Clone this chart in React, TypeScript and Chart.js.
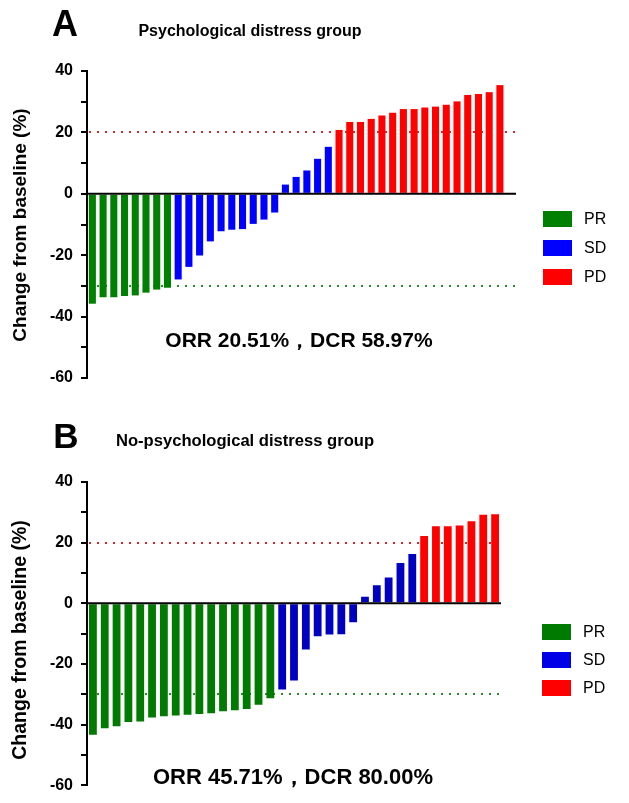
import React, { useEffect, useRef } from "react";
import { Chart, registerables } from "chart.js";

Chart.register(...registerables);

// ---------- Data ----------
const A_PR = [-35.8, -33.7, -33.7, -33.3, -33.1, -32.2, -31.2, -30.6];
const A_SD = [-27.9, -23.8, -20.1, -15.5, -12.2, -11.7, -11.5, -9.8, -8.4, -6.1, 3.0, 5.5, 7.6, 11.4, 15.3];
const A_PD = [20.8, 23.4, 23.4, 24.4, 25.5, 26.4, 27.6, 27.6, 28.1, 28.4, 29.0, 30.1, 32.2, 32.5, 33.1, 35.4];

const B_PR = [-43.3, -41.2, -40.5, -39.1, -38.9, -37.6, -37.2, -37.0, -36.7, -36.5, -36.2, -35.6, -35.2, -34.8, -33.4, -31.3];
const B_SD = [-28.4, -25.4, -15.2, -10.8, -10.3, -10.2, -6.2, 2.2, 6.0, 8.5, 13.3, 16.3];
const B_PD = [22.2, 25.4, 25.4, 25.7, 27.1, 29.2, 29.4];

const LEGEND_LABELS = ["PR", "SD", "PD"];
const Y_MIN = -60;
const Y_MAX = 40;
const Y_STEP = 10;
const PD_LINE = 20;
const PR_LINE = -30;

const TITLE_A = "Psychological distress group";
const TITLE_B = "No-psychological distress group";
const NOTE_A = "ORR 20.51%，DCR 58.97%";
const NOTE_B = "ORR 45.71%，DCR 80.00%";
const Y_TITLE = "Change from baseline (%)";

const FONT = '"Liberation Sans", Arial, Helvetica, sans-serif';

type PanelCfg = {
  letter: string;
  letterPos: [number, number];
  letterSize: number;
  title: string;
  titlePos: [number, number];
  titleSize: number;
  note: string;
  notePos: [number, number];
  noteSize: number;
  yTitlePos: [number, number];
  yTitleSize: number;
  legendX: number;
  legendY: number[];
  legendLabelX: number;
};

const panelPlugin = {
  id: "panel",
  beforeDatasetsDraw(chart: any, _a: any, opts: any) {
    const { ctx, chartArea, scales } = chart;
    const y = scales.y;
    const lines = [
      { v: PD_LINE, c: "#d92b2b" },
      { v: PR_LINE, c: "#2a8a2a" },
    ];
    ctx.save();
    ctx.lineWidth = 2;
    ctx.setLineDash([2, 6]);
    for (const l of lines) {
      const py = Math.round(y.getPixelForValue(l.v));
      ctx.strokeStyle = l.c;
      ctx.beginPath();
      ctx.moveTo(chartArea.left + 2, py);
      ctx.lineTo(chartArea.right, py);
      ctx.stroke();
    }
    ctx.restore();
  },
  afterDatasetsDraw(chart: any) {
    const { ctx, chartArea, scales } = chart;
    const py = scales.y.getPixelForValue(0);
    ctx.save();
    ctx.strokeStyle = "#000";
    ctx.lineWidth = 2;
    ctx.beginPath();
    ctx.moveTo(chartArea.left, py);
    ctx.lineTo(chartArea.right, py);
    ctx.stroke();
    ctx.restore();
  },
  afterDraw(chart: any, _a: any, cfg: PanelCfg) {
    const { ctx } = chart;
    ctx.save();
    ctx.fillStyle = "#000";
    ctx.textAlign = "center";
    ctx.textBaseline = "middle";
    ctx.font = `bold ${cfg.letterSize}px ${FONT}`;
    ctx.fillText(cfg.letter, cfg.letterPos[0], cfg.letterPos[1]);
    ctx.font = `bold ${cfg.titleSize}px ${FONT}`;
    ctx.fillText(cfg.title, cfg.titlePos[0], cfg.titlePos[1]);
    ctx.font = `bold ${cfg.noteSize}px ${FONT}`;
    ctx.fillText(cfg.note, cfg.notePos[0], cfg.notePos[1]);
    // y title
    ctx.save();
    ctx.translate(cfg.yTitlePos[0], cfg.yTitlePos[1]);
    ctx.rotate(-Math.PI / 2);
    ctx.font = `bold ${cfg.yTitleSize}px ${FONT}`;
    ctx.fillText(Y_TITLE, 0, 0);
    ctx.restore();
    // legend
    ctx.textAlign = "left";
    ctx.font = `16px ${FONT}`;
    chart.data.datasets.forEach((ds: any, i: number) => {
      const cy = cfg.legendY[i];
      ctx.fillStyle = ds.legendColor || ds.backgroundColor;
      ctx.fillRect(cfg.legendX, cy - 8, 29, 16);
      ctx.fillStyle = "#000";
      ctx.fillText(ds.label, cfg.legendLabelX, cy + 1);
    });
    ctx.restore();
  },
};

function buildData(pr: number[], sd: number[], pd: number[], extraSlots: number, colors: string[], legendColors: string[]) {
  const total = pr.length + sd.length + pd.length + extraSlots;
  const labels = Array.from({ length: total }, (_, i) => String(i + 1));
  const groups = [pr, sd, pd];
  let offset = 0;
  const datasets = groups.map((arr, gi) => {
    const start = offset;
    offset += arr.length;
    return {
      label: LEGEND_LABELS[gi],
      data: labels.map((_, i) => (i >= start && i < start + arr.length ? arr[i - start] : null)),
      backgroundColor: colors[gi],
      legendColor: legendColors[gi],
      borderWidth: 0,
      categoryPercentage: 1,
      barPercentage: 0.66,
    };
  });
  return { labels, datasets };
}

function makeConfig(data: any, padding: any, cfg: PanelCfg): any {
  return {
    type: "bar",
    data,
    plugins: [panelPlugin],
    options: {
      animation: false,
      responsive: false,
      devicePixelRatio: 1,
      layout: { padding },
      plugins: {
        legend: { display: false },
        title: { display: false },
        tooltip: { enabled: false },
        panel: cfg,
      },
      scales: {
        x: { display: false, stacked: true, grid: { display: false } },
        y: {
          stacked: true,
          min: Y_MIN,
          max: Y_MAX,
          afterFit: (s: any) => {
            s.width = 87;
          },
          ticks: {
            stepSize: Y_STEP,
            padding: 8,
            color: "#000",
            font: { family: FONT, size: 16, weight: "bold" },
            callback: (v: any) => (Number(v) % 20 === 0 ? String(v) : ""),
          },
          grid: {
            drawOnChartArea: false,
            drawTicks: true,
            tickLength: 6,
            color: "#000",
            lineWidth: 2,
          },
          border: { display: true, color: "#000", width: 2 },
        },
      },
    },
  };
}

export default function App() {
  const refA = useRef<HTMLCanvasElement>(null);
  const refB = useRef<HTMLCanvasElement>(null);

  useEffect(() => {
    const cfgA: PanelCfg = {
      letter: "A",
      letterPos: [65, 26],
      letterSize: 36,
      title: TITLE_A,
      titlePos: [250, 32],
      titleSize: 16,
      note: NOTE_A,
      notePos: [299, 341],
      noteSize: 21,
      yTitlePos: [21, 225],
      yTitleSize: 19,
      legendX: 543,
      legendY: [219, 248, 277],
      legendLabelX: 584,
    };
    const cfgB: PanelCfg = {
      letter: "B",
      letterPos: [66, 38],
      letterSize: 35,
      title: TITLE_B,
      titlePos: [245, 41],
      titleSize: 16.6,
      note: NOTE_B,
      notePos: [293, 378],
      noteSize: 22,
      yTitlePos: [21, 240],
      yTitleSize: 19.5,
      legendX: 542,
      legendY: [232, 260, 288],
      legendLabelX: 583,
    };
    const dataA = buildData(A_PR, A_SD, A_PD, 1, ["#008000", "#0000ff", "#ff0000"], ["#008000", "#0000ff", "#ff0000"]);
    const dataB = buildData(B_PR, B_SD, B_PD, 0, ["#007a00", "#0000c0", "#ff0000"], ["#007a00", "#0000e6", "#ff0000"]);
    const chA = new Chart(refA.current as any, makeConfig(dataA, { top: 71, bottom: 22, left: 0, right: 113 }, cfgA));
    const chB = new Chart(refB.current as any, makeConfig(dataB, { top: 82, bottom: 14, left: 0, right: 128 }, cfgB));
    return () => {
      chA.destroy();
      chB.destroy();
    };
  }, []);

  return (
    <div style={{ position: "absolute", left: 0, top: 0, width: 629, height: 803, background: "#fff" }}>
      <canvas ref={refA} width={629} height={400} style={{ position: "absolute", left: 0, top: 0, display: "block" }} />
      <canvas ref={refB} width={629} height={403} style={{ position: "absolute", left: 0, top: 400, display: "block" }} />
    </div>
  );
}
